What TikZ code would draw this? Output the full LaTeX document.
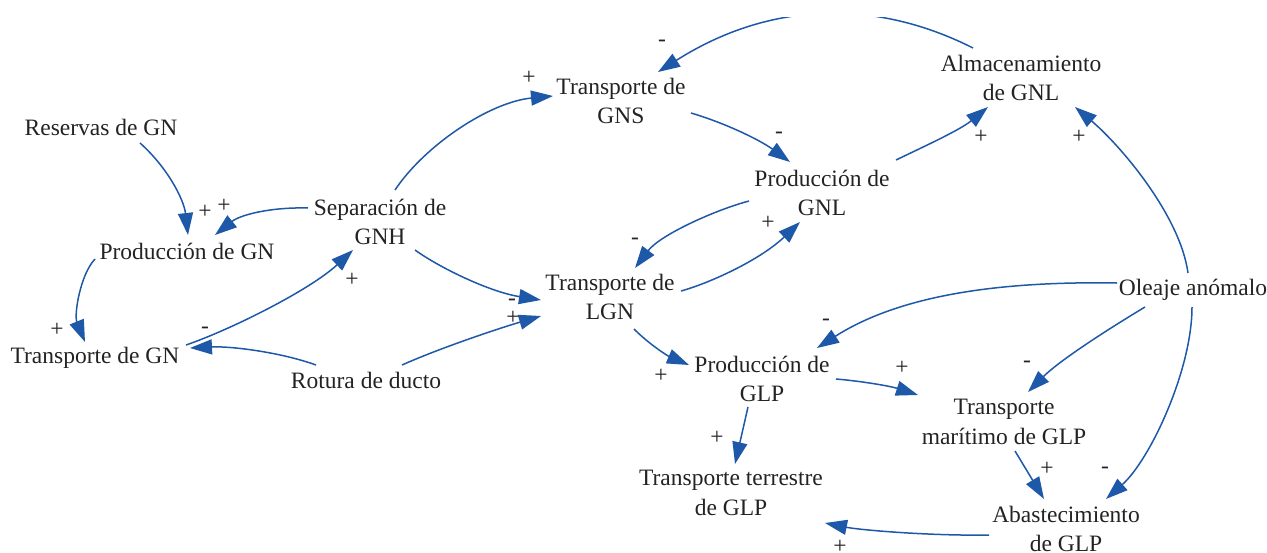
\documentclass[tikz,border=0pt]{standalone}
\usepackage{fontspec}
\setmainfont{Liberation Serif}
\usetikzlibrary{arrows.meta}
\definecolor{linkblue}{RGB}{30,88,168}
\definecolor{txt}{RGB}{35,35,35}
\begin{document}
\begin{tikzpicture}[x=1pt,y=-1pt,
  var/.style={font=\fontsize{23.5}{29.5}\selectfont, text=txt, align=center, inner sep=0pt},
  pol/.style={font=\fontsize{23.5}{29.5}\selectfont, text=txt, inner sep=0pt},
  link/.style={draw=linkblue, line width=1.5pt, -{Triangle[length=22pt,width=15pt]}}]
\useasboundingbox (0,0) rectangle (1267,552);

% variables
\node[var] (res)  at (101,127) {Reservas de GN};
\node[var] (pgn)  at (187,251) {Producción de GN};
\node[var] (tgn)  at (95,358)  {Transporte de GN};
\node[var] (sep)  at (380,222) {Separación de\\GNH};
\node[var] (rot)  at (366,380) {Rotura de ducto};
\node[var] (tgns) at (621,101) {Transporte de\\GNS};
\node[var] (alm)  at (1021,78) {Almacenamiento\\de GNL};
\node[var] (pgnl) at (822,193) {Producción de\\GNL};
\node[var] (tlgn) at (610,297) {Transporte de\\LGN};
\node[var] (ole)  at (1193,290) {Oleaje anómalo};
\node[var] (pglp) at (762,379) {Producción de\\GLP};
\node[var] (tmar) at (1004,422) {Transporte\\marítimo de GLP};
\node[var] (tter) at (731,493) {Transporte terrestre\\de GLP};
\node[var] (abas) at (1066,529) {Abastecimiento\\de GLP};

% links
\draw[link] ([shift={(39,16)}]res.center) .. controls (168,168) and (184,200) .. ([shift={(1,-16)}]pgn.center);
\draw[link] ([shift={(-72,-14)}]sep.center) .. controls (270,207) and (240,215) .. ([shift={(28,-16)}]pgn.center);
\draw[link] ([shift={(-92,8)}]pgn.center) .. controls (80,275) and (74,315) .. ([shift={(-10,-16)}]tgn.center);
\draw[link] ([shift={(91,-13)}]tgn.center) .. controls (230,330) and (310,290) .. ([shift={(-27,28)}]sep.center);
\draw[link] ([shift={(-50,-15)}]rot.center) .. controls (280,352) and (230,346) .. ([shift={(95,-10)}]tgn.center);
\draw[link] ([shift={(36,-15)}]rot.center) .. controls (440,348) and (500,328) .. ([shift={(-69,19)}]tlgn.center);
\draw[link] ([shift={(35,28)}]sep.center) .. controls (440,268) and (490,292) .. ([shift={(-69,3)}]tlgn.center);
\draw[link] ([shift={(15,-32)}]sep.center) .. controls (425,145) and (490,102) .. ([shift={(-68,-5)}]tgns.center);
\begin{scope}
\clip (0,17) rectangle (1267,552);
\draw[link] ([shift={(-48,-30)}]alm.center) .. controls (870,-4) and (765,4) .. ([shift={(37,-29)}]tgns.center);
\end{scope}
\draw[link] ([shift={(70,12)}]tgns.center) .. controls (725,123) and (760,140) .. ([shift={(-32,-31)}]pgnl.center);
\draw[link] ([shift={(74,-33)}]pgnl.center) .. controls (925,146) and (960,130) .. ([shift={(-33,29)}]alm.center);
\draw[link] ([shift={(-5,-17)}]ole.center) .. controls (1180,215) and (1120,145) .. ([shift={(54,29)}]alm.center);
\draw[link] ([shift={(-73,8)}]pgnl.center) .. controls (715,210) and (660,235) .. ([shift={(25,-29)}]tlgn.center);
\draw[link] ([shift={(71,-6)}]tlgn.center) .. controls (710,283) and (760,260) .. ([shift={(-22,29)}]pgnl.center);
\draw[link] ([shift={(24,32)}]tlgn.center) .. controls (650,345) and (668,356) .. ([shift={(-73,-14)}]pglp.center);
\draw[link] ([shift={(-76,-7)}]ole.center) .. controls (1000,281) and (900,295) .. ([shift={(55,-31)}]pglp.center);
\draw[link] ([shift={(-48,17)}]ole.center) .. controls (1110,328) and (1060,360) .. ([shift={(24,-30)}]tmar.center);
\draw[link] ([shift={(-1,17)}]ole.center) .. controls (1192,370) and (1150,460) .. ([shift={(40,-30)}]abas.center);
\draw[link] ([shift={(74,0)}]pglp.center) .. controls (860,381) and (890,386) .. ([shift={(-86,-27)}]tmar.center);
\draw[link] ([shift={(-14,28)}]pglp.center) -- ([shift={(4,-29)}]tter.center);
\draw[link] ([shift={(11,29)}]tmar.center) -- ([shift={(-22,-30)}]abas.center);
\draw[link] ([shift={(-77,6)}]abas.center) .. controls (930,536) and (860,530) .. ([shift={(94,30)}]tter.center);

% polarities
\node[pol] (p1)  at (205,212) {+};
\node[pol] (p2)  at (224,206) {+};
\node[pol] (p3)  at (57,330)  {+};
\node[pol] (p4)  at (352,280) {+};
\node[pol] (p5)  at (205,330) {-};
\node[pol] (p6)  at (513,318) {+};
\node[pol] (p7)  at (512,302) {-};
\node[pol] (p8)  at (529,78)  {+};
\node[pol] (p9)  at (662,43)  {-};
\node[pol] (p10) at (779,135) {-};
\node[pol] (p11) at (981,137) {+};
\node[pol] (p12) at (1079,137) {+};
\node[pol] (p13) at (635,241) {-};
\node[pol] (p14) at (768,223) {+};
\node[pol] (p15) at (661,376) {+};
\node[pol] (p16) at (826,322) {-};
\node[pol] (p17) at (1027,364) {-};
\node[pol] (p18) at (1105,470) {-};
\node[pol] (p19) at (902,368) {+};
\node[pol] (p20) at (717,438) {+};
\node[pol] (p21) at (1047,469) {+};
\node[pol] (p22) at (840,547) {+};
\end{tikzpicture}
\end{document}
